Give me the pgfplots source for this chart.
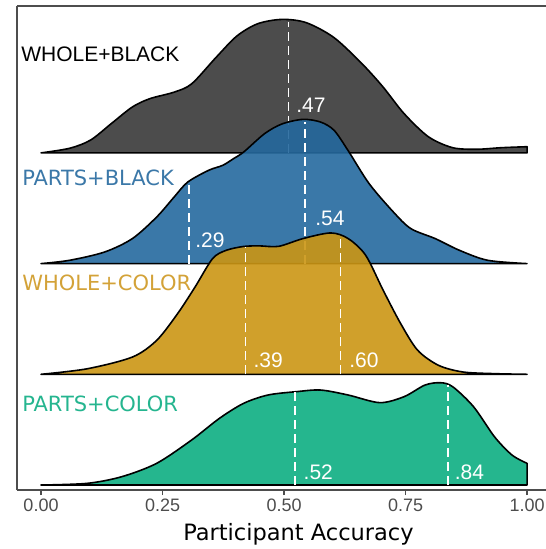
\documentclass[border=0pt]{standalone}
\usepackage{fontspec}
\setmainfont{Liberation Sans}
\newfontfamily\dvs{DejaVu Sans}
\usepackage{pgfplots}
\pgfplotsset{compat=1.18}
\usepackage{pgfplotstable}

\definecolor{fgray}{HTML}{393939}
\definecolor{fblue}{HTML}{25699E}
\definecolor{fgold}{HTML}{CB9614}
\definecolor{fgreen}{HTML}{0DAE82}
\definecolor{lblue}{HTML}{3B78A8}
\definecolor{lgold}{HTML}{D3A238}
\definecolor{lgreen}{HTML}{25B58F}
\definecolor{axiscol}{HTML}{4D4D4D}

\pgfplotstableread{
x h
0.000 0
0.059 0.042
0.102 0.116
0.145 0.266
0.188 0.415
0.224 0.490
0.274 0.549
0.310 0.624
0.360 0.862
0.403 1.056
0.446 1.167
0.496 1.206
0.546 1.176
0.603 1.041
0.661 0.803
0.704 0.594
0.747 0.355
0.797 0.146
0.847 0.047
0.897 0.033
0.947 0.047
1.000 0.056
}\wholeblack

\pgfplotstableread{
x h
0.000 0
0.059 0.030
0.131 0.105
0.188 0.226
0.238 0.421
0.274 0.602
0.302 0.737
0.345 0.843
0.374 0.888
0.396 0.948
0.417 1.008
0.460 1.174
0.496 1.262
0.539 1.303
0.575 1.279
0.603 1.204
0.632 1.020
0.675 0.723
0.725 0.466
0.761 0.316
0.811 0.226
0.861 0.120
0.919 0.030
1.000 0
}\partsblack

\pgfplotstableread{
x h
0.000 0
0.095 0.050
0.188 0.156
0.238 0.307
0.281 0.548
0.317 0.789
0.353 1.045
0.381 1.120
0.417 1.155
0.450 1.160
0.489 1.156
0.539 1.226
0.596 1.277
0.632 1.226
0.668 1.075
0.704 0.759
0.740 0.458
0.775 0.217
0.818 0.081
0.868 0.021
0.933 0.006
1.000 0
}\wholecolor

\pgfplotstableread{
x h
0.000 0
0.095 0.015
0.166 0.075
0.238 0.196
0.310 0.407
0.367 0.602
0.417 0.738
0.467 0.813
0.525 0.843
0.575 0.858
0.632 0.813
0.697 0.744
0.747 0.798
0.790 0.903
0.822 0.924
0.847 0.888
0.890 0.707
0.933 0.436
0.969 0.271
1.000 0.196
}\partscolor

\begin{document}
\begin{tikzpicture}
\begin{axis}[
  scale only axis,
  width=529pt, height=484pt,
  xmin=-0.0494, xmax=1.039,
  ymin=-0.045, ymax=4.327,
  axis x line*=bottom, axis y line*=left,
  axis line style={axiscol, line width=1.6pt},
  ytick=\empty,
  xtick={0,0.25,0.5,0.75,1},
  xticklabels={0.00,0.25,0.50,0.75,1.00},
  tick align=outside,
  major tick length=5pt,
  x tick style={axiscol, line width=1.6pt},
  xticklabel style={text=axiscol, font=\fontsize{18}{18}\selectfont},
  xlabel={Participant Accuracy},
  xlabel style={font=\dvs\fontsize{22.5}{22.5}\selectfont, at={(axis description cs:0.532,0)}, anchor=base, yshift=-50pt},
  every axis plot/.append style={line join=round},
  clip=false,
]
% top border
\draw[axiscol, line width=1.6pt] (rel axis cs:0,1) -- (rel axis cs:1,1);

% WHOLE+BLACK
\addplot[smooth, tension=0.5, fill=fgray, fill opacity=0.9, draw=black, line width=1.6pt]
  table[x=x, y expr=\thisrow{h}+3]{\wholeblack} -- (axis cs:1,3) -- (axis cs:0,3) -- cycle;
\addplot[white, line width=1.7pt, dash pattern=on 9pt off 5pt] coordinates {(0.509,3) (0.509,4.18)};
\node[white, anchor=west, inner sep=0pt, font=\fontsize{21}{21}\selectfont] at (axis cs:0.525,3.433) {.47};

% PARTS+BLACK
\addplot[smooth, tension=0.5, fill=fblue, fill opacity=0.9, draw=black, line width=1.6pt]
  table[x=x, y expr=\thisrow{h}+2]{\partsblack} -- (axis cs:1,2) -- (axis cs:0,2) -- cycle;
\addplot[white, line width=1.7pt, dash pattern=on 9pt off 5pt] coordinates {(0.305,2) (0.305,2.72)};
\addplot[white, line width=1.7pt, dash pattern=on 9pt off 5pt] coordinates {(0.543,2) (0.543,3.28)};
\node[white, anchor=west, inner sep=0pt, font=\fontsize{21}{21}\selectfont] at (axis cs:0.317,2.21) {.29};
\node[white, anchor=west, inner sep=0pt, font=\fontsize{21}{21}\selectfont] at (axis cs:0.564,2.406) {.54};

% WHOLE+COLOR
\addplot[smooth, tension=0.5, fill=fgold, fill opacity=0.9, draw=black, line width=1.6pt]
  table[x=x, y expr=\thisrow{h}+1]{\wholecolor} -- (axis cs:1,1) -- (axis cs:0,1) -- cycle;
\addplot[white, line width=1.7pt, dash pattern=on 9pt off 5pt] coordinates {(0.421,1) (0.421,2.15)};
\addplot[white, line width=1.7pt, dash pattern=on 9pt off 5pt] coordinates {(0.616,1) (0.616,2.25)};
\node[white, anchor=west, inner sep=0pt, font=\fontsize{21}{21}\selectfont] at (axis cs:0.437,1.126) {.39};
\node[white, anchor=west, inner sep=0pt, font=\fontsize{21}{21}\selectfont] at (axis cs:0.634,1.126) {.60};

% PARTS+COLOR
\addplot[smooth, tension=0.5, fill=fgreen, fill opacity=0.9, draw=black, line width=1.6pt]
  table[x=x, y expr=\thisrow{h}]{\partscolor} -- (axis cs:1,0) -- (axis cs:0,0) -- cycle;
\addplot[white, line width=1.7pt, dash pattern=on 9pt off 5pt] coordinates {(0.523,0) (0.523,0.84)};
\addplot[white, line width=1.7pt, dash pattern=on 9pt off 5pt] coordinates {(0.838,0) (0.838,0.90)};
\node[white, anchor=west, inner sep=0pt, font=\fontsize{21}{21}\selectfont] at (axis cs:0.540,0.117) {.52};
\node[white, anchor=west, inner sep=0pt, font=\fontsize{21}{21}\selectfont] at (axis cs:0.851,0.117) {.84};

% group labels
\node[black, anchor=west, inner sep=0pt, font=\fontsize{21}{21}\selectfont] at (axis cs:-0.041,3.889) {WHOLE+BLACK};
\node[text=lblue, anchor=west, inner sep=0pt, font=\dvs\fontsize{21}{21}\selectfont] at (axis cs:-0.039,2.773) {PARTS+BLACK};
\node[text=lgold, anchor=west, inner sep=0pt, font=\dvs\fontsize{21}{21}\selectfont] at (axis cs:-0.039,1.825) {WHOLE+COLOR};
\node[text=lgreen, anchor=west, inner sep=0pt, font=\dvs\fontsize{21}{21}\selectfont] at (axis cs:-0.039,0.732) {PARTS+COLOR};
\end{axis}
\pgfresetboundingbox
\path ([xshift=-17pt,yshift=-59pt]current axis.south west) rectangle ([yshift=6pt]current axis.north east);
\end{tikzpicture}
\end{document}
